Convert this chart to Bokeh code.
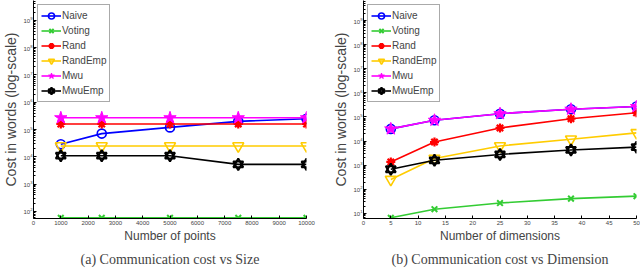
from bokeh.plotting import figure
from bokeh.layouts import row
from bokeh.models import Title, Legend, LegendItem, FixedTicker, Range1d
from bokeh.embed import file_html
from bokeh.resources import INLINE

# ---- data ----
x_points = [1000, 2500, 5000, 7500, 10000]
pts_naive = [2.9e4, 7.1e4, 1.2e5, 2.0e5, 2.5e5]
pts_voting = [58, 58, 58, 58, 58]
pts_rand = [1.6e5, 1.6e5, 1.6e5, 1.6e5, 1.6e5]
pts_randemp = [2.5e4, 2.5e4, 2.5e4, 2.5e4, 2.5e4]
pts_mwu = [2.7e5, 2.7e5, 2.7e5, 2.7e5, 2.7e5]
pts_mwuemp = [1.1e4, 1.1e4, 1.1e4, 5.3e3, 5.3e3]

x_dims = [5, 13, 25, 38, 50]
dim_naive = [3.2e4, 7.3e4, 1.37e5, 2.1e5, 2.7e5]
dim_voting = [6.6, 15, 27, 41, 52]
dim_rand = [1.37e3, 9.1e3, 3.5e4, 8.5e4, 1.5e5]
dim_randemp = [255, 1.9e3, 6.3e3, 1.2e4, 2.2e4]
dim_mwu = [3.2e4, 7.3e4, 1.37e5, 2.1e5, 2.7e5]
dim_mwuemp = [680, 1.6e3, 2.8e3, 4.3e3, 5.6e3]

x_ticks_points = [0, 1000, 2000, 3000, 4000, 5000, 6000, 7000, 8000, 9000, 10000]
x_ticks_dims = [0, 5, 10, 15, 20, 25, 30, 35, 40, 45, 50]

series_names = ["Naive", "Voting", "Rand", "RandEmp", "Mwu", "MwuEmp"]
colors = ["#0000ff", "#33cc33", "#ff0000", "#ffcc00", "#ff00ff", "#000000"]

SANS = "Liberation Sans"
SERIF = "Liberation Serif"


def make_plot(xs, ys_list, xr, ylog, xticks, xlabel, caption, width, min_left, min_right):
    p = figure(width=width, height=270, y_axis_type="log",
               x_range=Range1d(*xr), y_range=Range1d(10 ** ylog[0], 10 ** ylog[1]),
               output_backend="svg", toolbar_location=None,
               min_border_top=0, min_border_left=min_left,
               min_border_right=min_right, min_border_bottom=52)
    p.outline_line_color = None
    p.grid.visible = False
    p.background_fill_color = "white"
    for ax in (p.xaxis[0], p.yaxis[0]):
        ax.axis_line_color = "black"
        ax.axis_line_width = 1
        ax.major_tick_line_color = "black"
        ax.minor_tick_line_color = "black"
        ax.major_tick_in = 3
        ax.major_tick_out = 0
        ax.minor_tick_in = 2
        ax.minor_tick_out = 0
        ax.major_label_text_font = SANS
        ax.major_label_text_font_size = "6px"
        ax.major_label_standoff = 2
        ax.axis_label_text_font = SANS
        ax.axis_label_text_font_style = "normal"
        ax.axis_label_standoff = 1
    p.xaxis.axis_label_text_font_size = "12px"
    p.yaxis.axis_label_text_font_size = "14px"
    p.yaxis.major_label_standoff = 1
    p.xaxis.ticker = FixedTicker(ticks=xticks, minor_ticks=[])
    p.xaxis.axis_label = xlabel
    p.yaxis.axis_label = "Cost in words (log-scale)"

    items = []
    for i, (name, ys, col) in enumerate(zip(series_names, ys_list, colors)):
        line = p.line(xs, ys, line_color=col, line_width=1.6)
        rs = [line]
        if name == "Naive":
            rs.append(p.scatter(xs, ys, marker="circle", size=9, line_color=col,
                                fill_color=None, line_width=1.6))
        elif name == "Voting":
            rs.append(p.scatter(xs, ys, marker="x", size=8, line_color=col, line_width=2))
        elif name == "Rand":
            rs.append(p.scatter(xs, ys, marker="asterisk", size=9, line_color=col, line_width=2.2))
        elif name == "RandEmp":
            rs.append(p.scatter(xs, ys, marker="inverted_triangle", size=11, line_color=col,
                                fill_color=None, line_width=1.6))
        elif name == "Mwu":
            rs.append(p.scatter(xs, ys, marker="star", size=13, line_color=col,
                                fill_color=col, line_width=1))
        else:
            rs.append(p.scatter(xs, ys, marker="triangle", size=10, line_color=col,
                                fill_color=None, line_width=2))
            rs.append(p.scatter(xs, ys, marker="inverted_triangle", size=10, line_color=col,
                                fill_color=None, line_width=2))
        items.append(LegendItem(label=name, renderers=rs))

    leg = Legend(items=items, location="top_left")
    leg.margin = 4
    leg.padding = 3
    leg.spacing = 0
    leg.glyph_height = 15
    leg.glyph_width = 20
    leg.label_standoff = 1
    leg.label_height = 15
    leg.label_text_font = SANS
    leg.label_text_font_size = "10px"
    leg.border_line_color = "#555555"
    leg.border_line_width = 1
    leg.background_fill_color = "white"
    leg.background_fill_alpha = 1
    p.add_layout(leg, "center")

    t = Title(text=caption, align="center", text_font=SERIF,
              text_font_size="14px", text_font_style="normal", standoff=8, offset=0)
    p.add_layout(t, "below")
    return p


p1 = make_plot(x_points,
               [pts_naive, pts_voting, pts_rand, pts_randemp, pts_mwu, pts_mwuemp],
               (0, 10000), (1.74, 9.73), x_ticks_points,
               "Number of points", "(a) Communication cost vs Size",
               330, 0, 24)
p2 = make_plot(x_dims,
               [dim_naive, dim_voting, dim_rand, dim_randemp, dim_mwu, dim_mwuemp],
               (0, 50), (0.79, 9.83), x_ticks_dims,
               "Number of dimensions", "(b) Communication cost vs Dimension",
               310, 0, 4)

layout = row(p1, p2)
open("out.html", "w").write(file_html(layout, INLINE))
